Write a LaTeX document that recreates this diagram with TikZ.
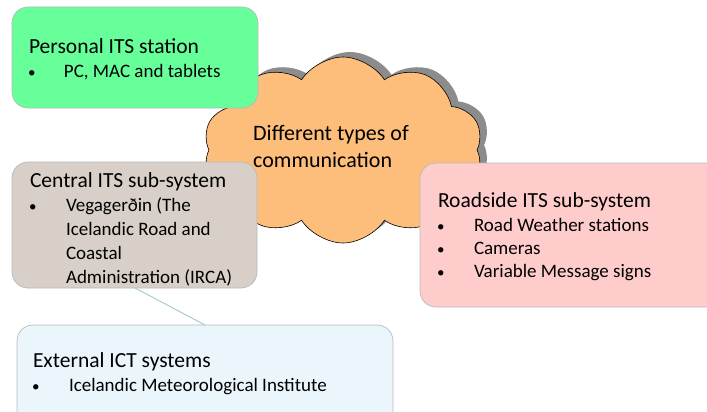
\documentclass[tikz,border=0pt]{standalone}
\usepackage{fontspec}
\setmainfont{Carlito}
\usetikzlibrary{positioning, shapes.symbols, shadows}
\definecolor{mygreen1}{RGB}{102, 255, 153}
\definecolor{myorange1}{RGB}{252, 190, 122}
\definecolor{mybeige1}{RGB}{216, 208, 200}
\definecolor{mypink1}{RGB}{255, 204, 204}
\definecolor{mylightblue1}{RGB}{234, 246, 251}
\definecolor{mylinkblue1}{RGB}{160, 200, 206}

\tikzset{
  panel/.style={draw=gray!55, line width=0.7, rounded corners=16, anchor=north west, inner sep=0, outer sep=0},
  panelcontent/.style={anchor=north west, inner sep=0, outer sep=0, align=left, font=\fontsize{19}{24}\selectfont}
}
\newcommand{\paneltitle}[1]{\multicolumn{2}{@{}l@{}}{\fontsize{21.5}{24}\selectfont #1}}
\newcommand{\panelitem}{\hspace{-1pt}{\fontsize{15}{15}\selectfont\textbullet}}

\begin{document}
\begin{tikzpicture}[x=1pt, y=-1pt]
\useasboundingbox (0,0) rectangle (707,412);

% --- Cloud ---
\node at (343,150) [cloud, cloud puffs=10, cloud puff arc=115, aspect=1.5, minimum width=280, minimum height=186, draw=black, line width=0.6, fill=myorange1, drop shadow={shadow xshift=7, shadow yshift=-5, fill=gray, opacity=0.9}] (commcloud) {};
\node at (331,146) [align=left, inner sep=0, font=\fontsize{22}{27}\selectfont] (commtext) {Different types of\\communication};

% --- Boxes ---
\node at (12,7) [panel, fill=mygreen1, minimum width=246, minimum height=101] (personal) {};
\node at ([xshift=17, yshift=-30]personal.north west) [panelcontent] (personaltext) {%
\begin{tabular}{@{}p{35pt}@{}l@{}}
\paneltitle{Personal ITS station}\\
\panelitem & PC, MAC and tablets
\end{tabular}};

\node at (12,162) [panel, fill=mybeige1, minimum width=245, minimum height=126] (central) {};
\node at ([xshift=18, yshift=-9]central.north west) [panelcontent] (centraltext) {%
\begin{tabular}{@{}p{36pt}@{}l@{}}
\paneltitle{Central ITS sub-system}\\
\panelitem & Vegagerðin (The\\
 & Icelandic Road and\\
 & Coastal\\
 & Administration (IRCA)
\end{tabular}};

\node at (420,163) [panel, fill=mypink1, minimum width=310, minimum height=144] (roadside) {};
\node at ([xshift=18, yshift=-28]roadside.north west) [panelcontent] (roadsidetext) {%
\begin{tabular}{@{}p{36pt}@{}l@{}}
\paneltitle{Roadside ITS sub-system}\\
\panelitem & Road Weather stations\\[-1pt]
\panelitem & Cameras\\[-1pt]
\panelitem & Variable Message signs
\end{tabular}};

\node at (17,325) [panel, fill=mylightblue1, minimum width=376, minimum height=110] (external) {};
\node at ([xshift=16, yshift=-26]external.north west) [panelcontent] (externaltext) {%
\begin{tabular}{@{}p{36pt}@{}l@{}}
\paneltitle{External ICT systems}\\
\panelitem & Icelandic Meteorological Institute
\end{tabular}};

% --- Link ---
\draw [mylinkblue1, line width=0.9] ([xshift=123]central.south west) -- ([xshift=188]external.north west);
\end{tikzpicture}
\end{document}
